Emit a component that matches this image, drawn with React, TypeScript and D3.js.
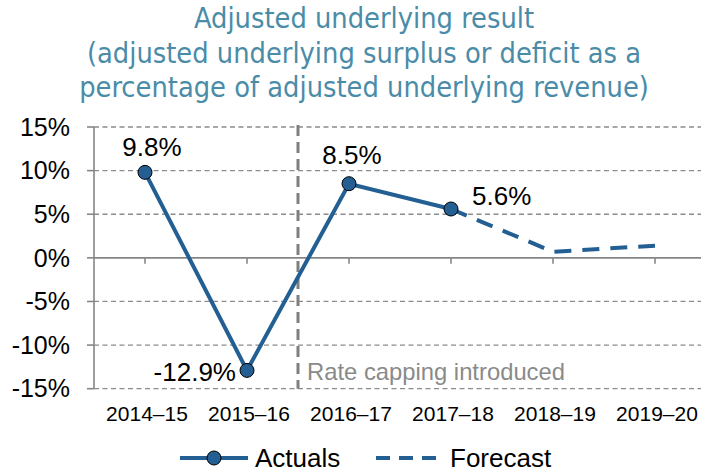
import React from "react";
import * as d3 from "d3";

const categories = ["2014–15", "2015–16", "2016–17", "2017–18", "2018–19", "2019–20"];
const actuals = [9.8, -12.9, 8.5, 5.6, null, null];
const forecast = [null, null, null, 5.6, 0.7, 1.4];
const yTicks = [-15, -10, -5, 0, 5, 10, 15];
const titleLines = [
  "Adjusted underlying result",
  "(adjusted underlying surplus or deficit as a",
  "percentage of adjusted underlying revenue)",
];

const W = 701;
const H = 472;
const blue = "#235f92";
const teal = "#4a8ca8";
const font = "'Liberation Sans', Arial, sans-serif";

const App = () => {
  const x = d3.scaleBand<string>().domain(categories).range([94, 706]);
  const cx = (c: string) => (x(c) as number) + x.bandwidth() / 2;
  const y = d3.scaleLinear().domain([-15, 15]).range([388.7, 127]);

  const line = d3
    .line<[string, number | null]>()
    .defined((d) => d[1] != null)
    .x((d) => cx(d[0]))
    .y((d) => y(d[1] as number));

  const actPts = categories.map((c, i) => [c, actuals[i]] as [string, number | null]);
  const fcPts = categories.map((c, i) => [c, forecast[i]] as [string, number | null]);

  // position of the rate capping marker: between 2015-16 and 2016-17
  const capX = (cx(categories[1]) + cx(categories[2])) / 2;

  return (
    <div style={{ position: "absolute", left: 0, top: 0 }}>
      <svg width={W} height={H} style={{ display: "block", fontFamily: font }}>
        <rect width={W} height={H} fill="#fff" />
        {titleLines.map((t, i) => (
          <text
            key={i}
            x={364}
            y={28 + i * 34.5}
            textAnchor="middle"
            fontSize={28.7}
            fill={teal}
            style={{ fontFamily: "'DejaVu Sans Condensed', 'DejaVu Sans', sans-serif" }}
          >
            {t}
          </text>
        ))}

        {/* gridlines */}
        {yTicks.map((t) =>
          t === 0 ? null : (
            <line key={t} x1={94} x2={W} y1={y(t)} y2={y(t)} stroke="#8c8c8c" strokeWidth={1.3} strokeDasharray="5,3.5" />
          )
        )}
        <line x1={94} x2={W} y1={y(0)} y2={y(0)} stroke="#868686" strokeWidth={1.6} />
        <line x1={94} x2={94} y1={y(15)} y2={y(-15)} stroke="#868686" strokeWidth={1.6} />
        {yTicks.map((t) => (
          <g key={t}>
            <line x1={87} x2={94} y1={y(t)} y2={y(t)} stroke="#868686" strokeWidth={1.6} />
            <text x={70} y={y(t)} dy="0.35em" textAnchor="end" fontSize={25} fill="#000">
              {t}%
            </text>
          </g>
        ))}
        {categories.map((c) => (
          <g key={c}>
            <line x1={cx(c)} x2={cx(c)} y1={y(0)} y2={y(0) + 6} stroke="#868686" strokeWidth={1.6} />
            <text x={cx(c) + 2} y={421} textAnchor="middle" fontSize={21} fill="#000">
              {c}
            </text>
          </g>
        ))}

        {/* rate capping */}
        <line x1={capX} x2={capX} y1={y(15) - 2} y2={y(-15)} stroke="#7f7f7f" strokeWidth={3} strokeDasharray="11,6" />
        <text x={capX + 9} y={380} fontSize={23.8} fill="#8a8a8a">
          Rate capping introduced
        </text>

        {/* series */}
        <path d={line(fcPts) || ""} fill="none" stroke={blue} strokeWidth={4} strokeDasharray="17,11" />
        <path d={line(actPts) || ""} fill="none" stroke={blue} strokeWidth={4} />
        {actPts
          .filter((d) => d[1] != null)
          .map((d) => (
            <circle key={d[0]} cx={cx(d[0])} cy={y(d[1] as number)} r={7} fill={blue} stroke="#000" strokeWidth={1} />
          ))}

        {/* data labels */}
        <text x={cx(categories[0]) + 7} y={156} textAnchor="middle" fontSize={26}>9.8%</text>
        <text x={cx(categories[1]) - 11} y={381} textAnchor="end" fontSize={26}>-12.9%</text>
        <text x={cx(categories[2]) + 3} y={164} textAnchor="middle" fontSize={26}>8.5%</text>
        <text x={cx(categories[3]) + 21} y={205} textAnchor="start" fontSize={26}>5.6%</text>

        {/* legend */}
        <line x1={180} x2={248} y1={458} y2={458} stroke={blue} strokeWidth={4} />
        <circle cx={214} cy={458} r={7} fill={blue} stroke="#000" strokeWidth={1} />
        <text x={255} y={467} fontSize={26}>Actuals</text>
        <line x1={376} x2={442} y1={458} y2={458} stroke={blue} strokeWidth={4} strokeDasharray="14,9" />
        <text x={450} y={467} fontSize={26}>Forecast</text>
      </svg>
    </div>
  );
};

export default App;
